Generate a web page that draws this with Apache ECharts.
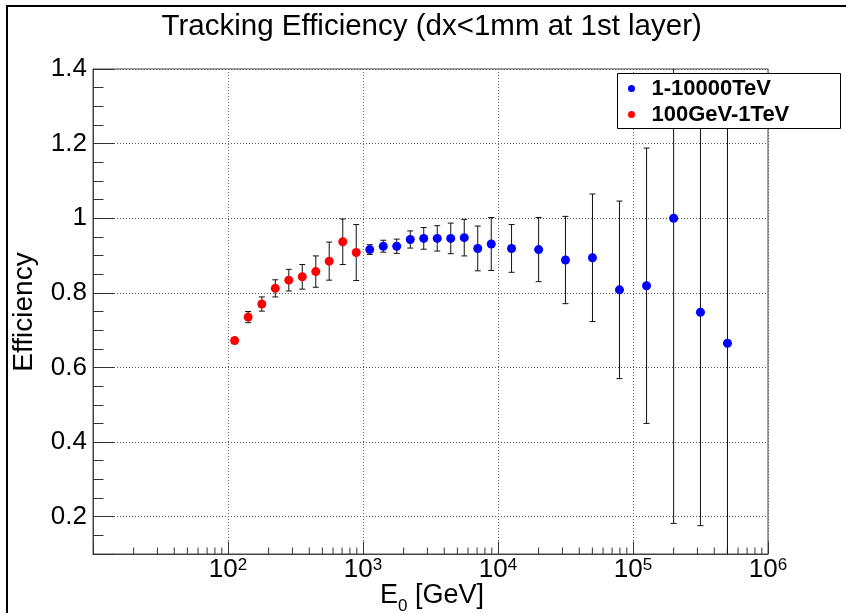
<!DOCTYPE html>
<html><head><meta charset="utf-8">
<script src="https://cdn.jsdelivr.net/npm/echarts@6/dist/echarts.min.js"></script>
<style>html,body{margin:0;padding:0;background:#fff}#c{width:846px;height:613px}</style>
</head><body><div id="c"></div>
<script>
// ---- data ----
const redName = '100GeV-1TeV';
const blueName = '1-10000TeV';
const redE   = [112, 141, 178, 224, 282, 355, 447, 562, 708, 891];
const redEff = [0.672, 0.735, 0.770, 0.812, 0.834, 0.843, 0.857, 0.885, 0.937, 0.908];
const redErr = [0.008, 0.015, 0.019, 0.023, 0.029, 0.033, 0.042, 0.051, 0.061, 0.075];
const blueE   = [1122, 1413, 1778, 2239, 2818, 3548, 4467, 5623, 7079, 8913, 12600, 20000, 31600, 50100, 79400, 126000, 200000, 316000, 501000];
const blueEff = [0.916, 0.925, 0.925, 0.943, 0.946, 0.946, 0.946, 0.948, 0.919, 0.931, 0.919, 0.916, 0.888, 0.894, 0.808, 0.819, 1.000, 0.748, 0.665];
const blueErr = [0.013, 0.016, 0.019, 0.023, 0.029, 0.034, 0.041, 0.049, 0.060, 0.071, 0.064, 0.086, 0.117, 0.171, 0.238, 0.369, 0.818, 0.572, 0.665];
const xMinorMantissas = [2, 3, 4, 5, 6, 7, 8, 9];
const xMinorDecades = [10, 100, 1000, 10000, 100000];
const titleText = 'Tracking Efficiency (dx<1mm at 1st layer)';
const yTitle = 'Efficiency';

// ---- build ----
const FONT = 'Liberation Sans, Arial, sans-serif';
const xMinor = [];
xMinorDecades.forEach(d => xMinorMantissas.forEach(m => xMinor.push([m * d, 1])));
const zip3 = (a, b, c) => a.map((v, i) => [v, b[i], c[i]]);

function errRender(params, api) {
  const cs = params.coordSys;
  const xv = api.value(0), yv = api.value(1), e = api.value(2);
  const x = api.coord([xv, yv])[0];
  let yt = api.coord([xv, yv + e])[1];
  let yb = api.coord([xv, yv - e])[1];
  const top = cs.y, bot = cs.y + cs.height;
  const children = [];
  const capT = yt >= top, capB = yb <= bot;
  yt = Math.max(yt, top); yb = Math.min(yb, bot);
  const st = {stroke: '#111', lineWidth: 1};
  children.push({type: 'line', shape: {x1: x, y1: yt, x2: x, y2: yb}, style: st});
  if (capT) children.push({type: 'line', shape: {x1: x - 3, y1: yt, x2: x + 3, y2: yt}, style: st});
  if (capB) children.push({type: 'line', shape: {x1: x - 3, y1: yb, x2: x + 3, y2: yb}, style: st});
  return {type: 'group', children};
}

function minorRender(params, api) {
  const cs = params.coordSys;
  const x = api.coord([api.value(0), api.value(1)])[0];
  const yb = cs.y + cs.height;
  return {type: 'line', shape: {x1: x, y1: yb, x2: x, y2: yb - 6.5}, style: {stroke: '#333', lineWidth: 1}};
}

const chart = echarts.init(document.getElementById('c'), null, {renderer: 'canvas'});
chart.setOption({
  backgroundColor: '#fff',
  animation: false,
  textStyle: {fontFamily: FONT},
  grid: {left: 93, right: 78, top: 69, bottom: 59, show: true, borderColor: '#444', borderWidth: 1, backgroundColor: 'transparent'},
  xAxis: {
    type: 'log', logBase: 10, min: 10, max: 1000000,
    axisLine: {show: true, lineStyle: {color: '#444', width: 1}},
    axisTick: {show: true, inside: true, length: 12.5, lineStyle: {color: '#333'}},
    splitLine: {show: true, lineStyle: {color: '#666', type: [1, 2], width: 1}},
    axisLabel: {
      margin: 3, color: '#000',
      formatter: v => { const p = Math.round(Math.log10(v)); return p < 2 ? '' : '{b|10}{s|' + p + '}'; },
      rich: {
        b: {fontFamily: FONT, fontSize: 26, lineHeight: 26, color: '#000', verticalAlign: 'bottom', padding: [4.5, 0, 0, 0]},
        s: {fontFamily: FONT, fontSize: 17, lineHeight: 17, color: '#000', verticalAlign: 'top'}
      }
    }
  },
  yAxis: [{
    type: 'value', min: 0.1, max: 1.4, splitNumber: 6,
    axisLine: {show: true, lineStyle: {color: '#444', width: 1}},
    axisTick: {show: true, inside: true, length: 21, lineStyle: {color: '#333'}},
    splitLine: {show: true, lineStyle: {color: '#555', type: [1, 2], width: 1}},
    axisLabel: {
      margin: 6, color: '#000', fontSize: 26, fontFamily: FONT, showMaxLabel: true,
      formatter: v => (v < 0.15 ? '' : String(Math.round(v * 10) / 10))
    }
  }, {
    type: 'value', min: 0.1, max: 1.4, interval: 0.05, position: 'left',
    axisLine: {show: false}, axisLabel: {show: false}, splitLine: {show: false},
    axisTick: {show: true, inside: true, length: 10.5, lineStyle: {color: '#333'}}
  }],
  legend: {
    data: [{name: blueName, icon: 'circle'}, {name: redName, icon: 'circle'}],
    orient: 'vertical', left: 628, top: 75.5, itemWidth: 30, itemHeight: 7, itemGap: 0, padding: 0,
    selectedMode: false, z: 60,
    textStyle: {fontFamily: FONT, fontSize: 22, fontWeight: 'bold', color: '#000', lineHeight: 26}
  },
  series: [
    {type: 'custom', name: 'xminor', renderItem: minorRender, data: xMinor, silent: true, z: 3, clip: false},
    {type: 'custom', name: 'errRed', renderItem: errRender, data: zip3(redE, redEff, redErr), silent: true, z: 4},
    {type: 'custom', name: 'errBlue', renderItem: errRender, data: zip3(blueE, blueEff, blueErr), silent: true, z: 4},
    {type: 'scatter', name: redName, data: redE.map((e, i) => [e, redEff[i]]), symbol: 'circle', symbolSize: 9, itemStyle: {color: '#ff0000', opacity: 1}, z: 5},
    {type: 'scatter', name: blueName, data: blueE.map((e, i) => [e, blueEff[i]]), symbol: 'circle', symbolSize: 9, itemStyle: {color: '#0000ff', opacity: 1}, z: 5}
  ],
  graphic: {elements: [
    {type: 'rect', shape: {x: 7, y: 6, width: 900, height: 700}, style: {fill: 'none', stroke: '#000', lineWidth: 2}, z: 0, silent: true},
    {type: 'rect', shape: {x: 617.5, y: 73.5, width: 223, height: 55}, style: {fill: '#fff', stroke: '#000', lineWidth: 1}, z: 50, silent: true},
    {type: 'text', x: 431.7, y: 27.3, style: {text: titleText, font: '29.5px ' + FONT, fill: '#000', textAlign: 'center', textVerticalAlign: 'middle'}, z: 50},
    {type: 'text', x: 24, y: 312, rotation: Math.PI / 2, style: {text: yTitle, font: '28px ' + FONT, fill: '#000', textAlign: 'center', textVerticalAlign: 'middle'}, z: 50},
    {type: 'text', x: 380, y: 582, style: {
      text: '{a|E}{s|0}{a| [GeV]}', textAlign: 'left', textVerticalAlign: 'top',
      rich: {
        a: {fontFamily: FONT, fontSize: 27, lineHeight: 26, fill: '#000', verticalAlign: 'top'},
        s: {fontFamily: FONT, fontSize: 17, lineHeight: 17, fill: '#000', verticalAlign: 'top', padding: [15.6, 0, 0, 0]}
      }}, z: 50}
  ]}
});
</script>
</body></html>
